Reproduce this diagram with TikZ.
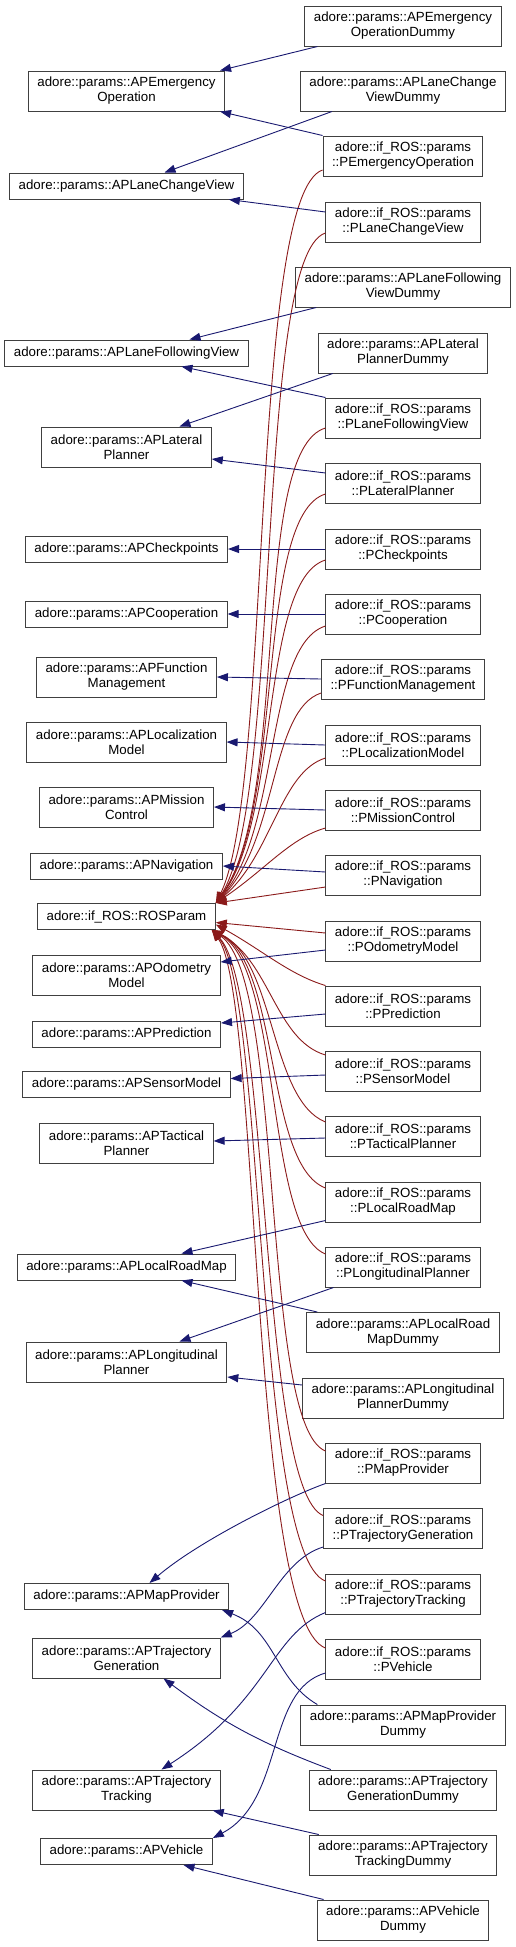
\documentclass[tikz,border=0pt]{standalone}
\usepackage{fontspec}
\setmainfont{Liberation Sans}
\usetikzlibrary{arrows.meta}
\definecolor{edgeblue}{HTML}{191970}
\definecolor{edgered}{HTML}{8B1A1A}
\definecolor{boxline}{HTML}{404040}

\begin{document}
\begin{tikzpicture}[x=1pt,y=-1pt,
    box/.style={draw=boxline,line width=1pt,align=center,inner xsep=9pt,inner ysep=2pt,font=\fontsize{13.3}{15}\selectfont},
    one/.style={box,minimum height=26pt},
    two/.style={box,minimum height=40pt},
    inh/.style={color=edgeblue,line width=0.9pt,-{Triangle[length=11pt,width=8pt]}},
    toros/.style={color=edgered,line width=0.9pt,-{Triangle[length=11pt,width=8pt]}}]
        \useasboundingbox (0,0) rectangle (516,1947);

        \node[two] (apemod) at (403,26) {adore::params::APEmergency\\OperationDummy};
        \node[two] (apemo) at (126.5,91) {adore::params::APEmergency\\Operation};
        \node[two] (aplcvd) at (403,91) {adore::params::APLaneChange\\ViewDummy};
        \node[two] (pemo) at (403,156) {adore::if\_ROS::params\\::PEmergencyOperation};
        \node[one] (aplcv) at (126.5,186) {adore::params::APLaneChangeView};
        \node[two] (plcv) at (403,222) {adore::if\_ROS::params\\::PLaneChangeView};
        \node[two] (aplfvd) at (403,287) {adore::params::APLaneFollowing\\ViewDummy};
        \node[one] (aplfv) at (126.5,353) {adore::params::APLaneFollowingView};
        \node[two] (aplpd) at (403,353) {adore::params::APLateral\\PlannerDummy};
        \node[two] (plfv) at (403,418) {adore::if\_ROS::params\\::PLaneFollowingView};
        \node[two] (aplp) at (126.5,447) {adore::params::APLateral\\Planner};
        \node[two] (plp) at (403,483) {adore::if\_ROS::params\\::PLateralPlanner};
        \node[one] (apcp) at (126.5,549) {adore::params::APCheckpoints};
        \node[two] (pcp) at (403,549) {adore::if\_ROS::params\\::PCheckpoints};
        \node[one] (apcoop) at (126.5,614) {adore::params::APCooperation};
        \node[two] (pcoop) at (403,614) {adore::if\_ROS::params\\::PCooperation};
        \node[two] (apfm) at (126.5,677) {adore::params::APFunction\\Management};
        \node[two] (pfm) at (403,679) {adore::if\_ROS::params\\::PFunctionManagement};
        \node[two] (aplm) at (126.5,742) {adore::params::APLocalization\\Model};
        \node[two] (plm) at (403,745) {adore::if\_ROS::params\\::PLocalizationModel};
        \node[two] (apmc) at (126.5,807) {adore::params::APMission\\Control};
        \node[two] (pmc) at (403,810) {adore::if\_ROS::params\\::PMissionControl};
        \node[one] (apnav) at (126.5,866) {adore::params::APNavigation};
        \node[two] (pnav) at (403,875) {adore::if\_ROS::params\\::PNavigation};
        \node[one] (ros) at (126.5,916.5) {adore::if\_ROS::ROSParam};
        \node[two] (podo) at (403,941) {adore::if\_ROS::params\\::POdometryModel};
        \node[two] (apodo) at (126.5,975) {adore::params::APOdometry\\Model};
        \node[two] (ppred) at (403,1006) {adore::if\_ROS::params\\::PPrediction};
        \node[one] (appred) at (126.5,1034) {adore::params::APPrediction};
        \node[two] (psens) at (403,1071) {adore::if\_ROS::params\\::PSensorModel};
        \node[one] (apsens) at (126.5,1084.5) {adore::params::APSensorModel};
        \node[two] (ptac) at (403,1136) {adore::if\_ROS::params\\::PTacticalPlanner};
        \node[two] (aptac) at (126.5,1143) {adore::params::APTactical\\Planner};
        \node[two] (plrm) at (403,1202) {adore::if\_ROS::params\\::PLocalRoadMap};
        \node[one] (aplrm) at (126.5,1267) {adore::params::APLocalRoadMap};
        \node[two] (plong) at (403,1267) {adore::if\_ROS::params\\::PLongitudinalPlanner};
        \node[two] (aplrmd) at (403,1332.5) {adore::params::APLocalRoad\\MapDummy};
        \node[two] (aplong) at (126.5,1362) {adore::params::APLongitudinal\\Planner};
        \node[two] (aplongd) at (403,1398) {adore::params::APLongitudinal\\PlannerDummy};
        \node[two] (pmap) at (403,1463) {adore::if\_ROS::params\\::PMapProvider};
        \node[two] (ptrg) at (403,1528.5) {adore::if\_ROS::params\\::PTrajectoryGeneration};
        \node[one] (apmap) at (126.5,1596.5) {adore::params::APMapProvider};
        \node[two] (ptrt) at (403,1594) {adore::if\_ROS::params\\::PTrajectoryTracking};
        \node[two] (aptrg) at (126.5,1658) {adore::params::APTrajectory\\Generation};
        \node[two] (pveh) at (403,1659) {adore::if\_ROS::params\\::PVehicle};
        \node[two] (apmapd) at (403,1725) {adore::params::APMapProvider\\Dummy};
        \node[two] (aptrt) at (126.5,1790) {adore::params::APTrajectory\\Tracking};
        \node[two] (aptrgd) at (403,1790) {adore::params::APTrajectory\\GenerationDummy};
        \node[one] (apveh) at (126.5,1851.5) {adore::params::APVehicle};
        \node[two] (aptrtd) at (403,1855) {adore::params::APTrajectory\\TrackingDummy};
        \node[two] (apvehd) at (403,1920) {adore::params::APVehicle\\Dummy};

        % ROSParam, from above
        \draw[toros] ([yshift=-14]pemo.west) .. controls (250,195) and (272,790) .. (ros.north east);
        \draw[toros] ([yshift=-11]plcv.west) .. controls (255,255) and (282,800) .. (ros.north east);
        \draw[toros] ([yshift=-10]plfv.west) .. controls (250,450) and (290,800) .. (ros.north east);
        \draw[toros] ([yshift=-11]plp.west) .. controls (255,515) and (285,810) .. (ros.north east);
        \draw[toros] ([yshift=-11]pcp.west) .. controls (260,580) and (280,820) .. (ros.north east);
        \draw[toros] ([yshift=-12]pcoop.west) .. controls (265,645) and (280,830) .. (ros.north east);
        \draw[toros] ([yshift=-14]pfm.west) .. controls (270,710) and (278,840) .. (ros.north east);
        \draw[toros] ([yshift=-13]plm.west) .. controls (280,772) and (272,855) .. (ros.north east);
        \draw[toros] ([yshift=-18]pmc.west) .. controls (290,838) and (265,870) .. (ros.north east);
        \draw[toros] ([yshift=-12]pnav.west) -- (ros.north east);
        % ROSParam, from below
        \draw[toros] ([yshift=8]podo.west) -- ([yshift=-6]ros.east);
        \draw[toros] (ppred.north west) .. controls (290,975) and (262,950) .. ([yshift=-8]ros.east);
        \draw[toros] ([yshift=16]psens.west) .. controls (275,1040) and (270,960) .. ([xshift=-4]ros.south east);
        \draw[toros] ([yshift=14]ptac.west) .. controls (270,1100) and (275,960) .. ([xshift=-4]ros.south east);
        \draw[toros] ([yshift=14]plrm.west) .. controls (265,1165) and (280,965) .. ([xshift=-4]ros.south east);
        \draw[toros] ([yshift=13]plong.west) .. controls (265,1230) and (282,970) .. ([xshift=-4]ros.south east);
        \draw[toros] ([yshift=12]pmap.west) .. controls (260,1425) and (285,980) .. ([xshift=-4]ros.south east);
        \draw[toros] ([yshift=13]ptrg.west) .. controls (260,1490) and (270,990) .. ([xshift=-4]ros.south east);
        \draw[toros] ([yshift=13]ptrt.west) .. controls (255,1555) and (265,990) .. ([xshift=-4]ros.south east);
        \draw[toros] ([yshift=11]pveh.west) .. controls (250,1620) and (260,995) .. ([xshift=-4]ros.south east);

        % inheritance
        \draw[inh] ([xshift=13]apemod.south west) -- ([xshift=-5]apemo.north east);
        \draw[inh] (pemo.north west) -- ([xshift=-5]apemo.south east);
        \draw[inh] ([xshift=32]aplcvd.south west) -- ([xshift=38]aplcv.north);
        \draw[inh] ([yshift=10]plcv.west) -- ([xshift=-15]aplcv.south east);
        \draw[inh] ([xshift=21]aplfvd.south west) -- ([xshift=63]aplfv.north);
        \draw[inh] (plfv.north west) -- ([xshift=55]aplfv.south);
        \draw[inh] ([xshift=15]aplpd.south west) -- ([xshift=53]aplp.north);
        \draw[inh] ([yshift=10]plp.west) -- ([yshift=-12]aplp.east);
        \draw[inh] (pcp.west) -- (apcp.east);
        \draw[inh] (pcoop.west) -- (apcoop.east);
        \draw[inh] (pfm.west) -- (apfm.east);
        \draw[inh] (plm.west) -- (aplm.east);
        \draw[inh] (pmc.west) -- (apmc.east);
        \draw[inh] ([yshift=3]pnav.west) -- (apnav.east);
        \draw[inh] ([yshift=-9]podo.west) -- ([yshift=13]apodo.east);
        \draw[inh] ([yshift=-8]ppred.west) -- ([yshift=11]appred.east);
        \draw[inh] ([yshift=-4]psens.west) -- ([yshift=6]apsens.east);
        \draw[inh] ([yshift=-2]ptac.west) -- ([yshift=2]aptac.east);
        \draw[inh] ([yshift=2]plrm.south west) -- ([xshift=55]aplrm.north);
        \draw[inh] ([xshift=11]aplrmd.north west) -- ([xshift=55]aplrm.south);
        \draw[inh] ([xshift=8]plong.south west) -- ([xshift=53]aplong.north);
        \draw[inh] ([yshift=13]aplongd.west) -- ([yshift=-15]aplong.east);
        \draw[inh] (pmap.south west) .. controls (290,1496) and (200,1540) .. ([xshift=23]apmap.north);
        \draw[inh] ([yshift=2]ptrg.south west) .. controls (280,1560) and (265,1620) .. (aptrg.north east);
        \draw[inh] ([xshift=17]apmapd.north west) .. controls (275,1680) and (275,1630) .. ([xshift=-7]apmap.south east);
        \draw[inh] ([yshift=2]ptrt.south west) .. controls (270,1635) and (270,1700) .. ([xshift=35]aptrt.north);
        \draw[inh] ([xshift=22]aptrgd.north west) to[bend left=8] ([xshift=37]aptrg.south);
        \draw[inh] ([yshift=-14]pveh.west) .. controls (265,1690) and (285,1800) .. (apveh.north east);
        \draw[inh] ([xshift=10]aptrtd.north west) -- ([xshift=-8]aptrt.south east);
        \draw[inh] ([xshift=7]apvehd.north west) -- ([xshift=57]apveh.south);
\end{tikzpicture}
\end{document}
